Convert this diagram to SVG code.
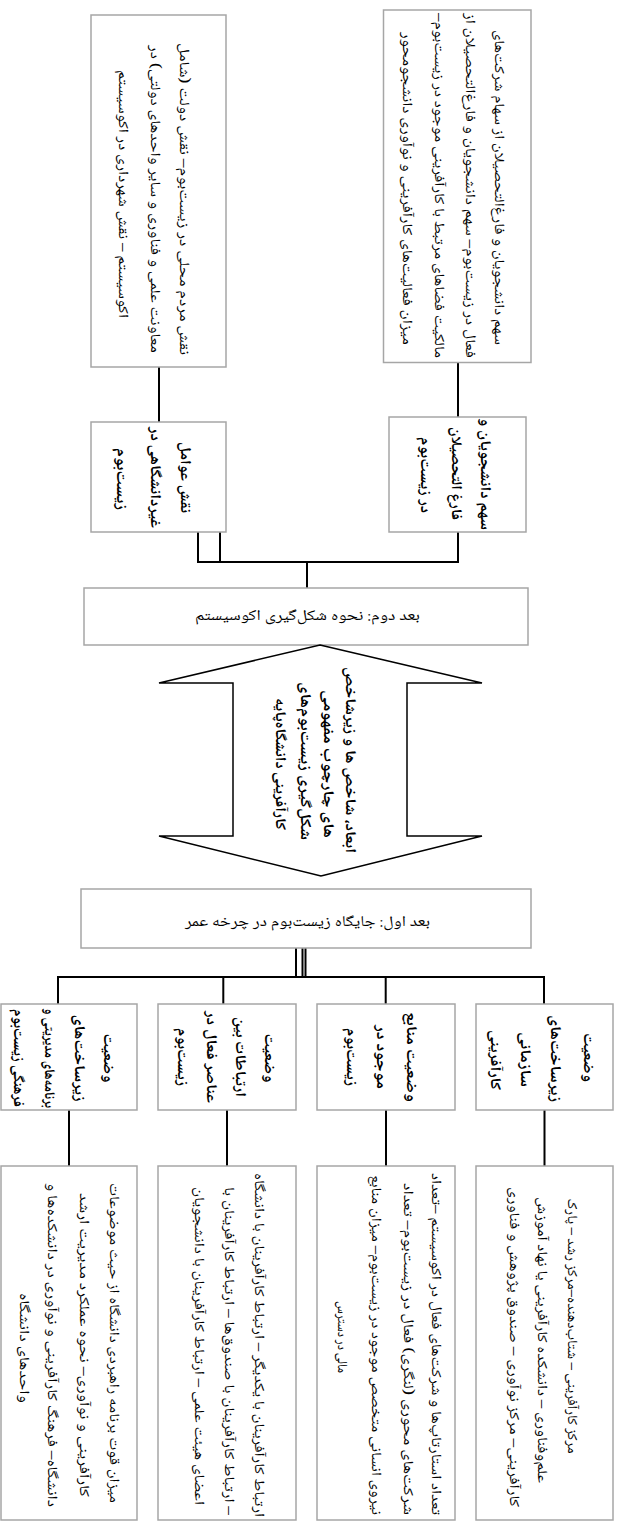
<svg xmlns="http://www.w3.org/2000/svg" width="618" height="1524" viewBox="0 0 618 1524">
<style>
.box{fill:#fff;stroke:#a6a6a6;stroke-width:1.5}
.con{stroke:#000;stroke-width:2;fill:none}
.arrow{fill:#fff;stroke:#000;stroke-width:1.5;stroke-linejoin:miter}
text{font-family:'Noto Naskh Arabic','Noto Sans Arabic','DejaVu Sans',sans-serif;font-size:14px;fill:#000}
.b{font-weight:bold;font-size:15px}
.h{font-size:15px}
</style>
<rect width="618" height="1524" fill="#fff"/>
<g id="connectors">
<path class="con" d="M458,362.5V417M159,367V422M198,532V562M220,532V562M458,532V562M197,562H459M307,562V588"/>
<path class="con" d="M296,948V977M302.5,948V977M305.5,948V977M57,977H545M58,977V1004M223.3,977V1004M385.7,977V1004M544,977V1004"/>
<path class="con" d="M69,1110V1166M227,1110V1166M386,1110V1166M544.5,1110V1166"/>
</g>
<g id="n_top_right">
<rect class="box" x="383.5" y="10" width="147.5" height="352.5"/>
<text direction="rtl" text-anchor="middle" transform="translate(495,187.5) rotate(90)" textLength="315" lengthAdjust="spacingAndGlyphs">سهم دانشجویان و فارغ‌التحصیلان از سهام شرکت‌های</text>
<text direction="rtl" text-anchor="middle" transform="translate(466,185.5) rotate(90)" textLength="345" lengthAdjust="spacingAndGlyphs">فعال در زیست‌بوم– سهم دانشجویان و فارغ‌التحصیلان از</text>
<text direction="rtl" text-anchor="middle" transform="translate(435,185.5) rotate(90)" textLength="345" lengthAdjust="spacingAndGlyphs">مالکیت فضاهای مرتبط با کارآفرینی موجود در زیست‌بوم–</text>
<text direction="rtl" text-anchor="middle" transform="translate(403,188.5) rotate(90)" textLength="313" lengthAdjust="spacingAndGlyphs">میزان فعالیت‌های کارآفرینی و نوآوری دانشجو‌محور</text>
</g>
<g id="n_top_left">
<rect class="box" x="91" y="15" width="135" height="352"/>
<text direction="rtl" text-anchor="middle" transform="translate(180,199) rotate(90)" textLength="312" lengthAdjust="spacingAndGlyphs">نقش مردم محلی در زیست‌بوم– نقش دولت (شامل</text>
<text direction="rtl" text-anchor="middle" transform="translate(151,199) rotate(90)" textLength="308" lengthAdjust="spacingAndGlyphs">معاونت علمی و فناوری و سایر واحدهای دولتی) در</text>
<text direction="rtl" text-anchor="middle" transform="translate(119,194) rotate(90)" textLength="248" lengthAdjust="spacingAndGlyphs">اکوسیستم – نقش شهرداری در اکوسیستم</text>
</g>
<g id="n_sahm">
<rect class="box" x="389" y="417" width="137" height="115"/>
<text class="b" direction="rtl" text-anchor="middle" transform="translate(481,474) rotate(90)" textLength="112" lengthAdjust="spacingAndGlyphs">سهم دانشجویان و</text>
<text class="b" direction="rtl" text-anchor="middle" transform="translate(452,473.5) rotate(90)" textLength="93" lengthAdjust="spacingAndGlyphs">فارغ التحصیلان</text>
<text class="b" direction="rtl" text-anchor="middle" transform="translate(421,475) rotate(90)" textLength="76" lengthAdjust="spacingAndGlyphs">در زیست‌بوم</text>
</g>
<g id="n_naghsh">
<rect class="box" x="91" y="422" width="135" height="110"/>
<text class="b" direction="rtl" text-anchor="middle" transform="translate(181,477.5) rotate(90)" textLength="71" lengthAdjust="spacingAndGlyphs">نقش عوامل</text>
<text class="b" direction="rtl" text-anchor="middle" transform="translate(151,477.5) rotate(90)" textLength="101" lengthAdjust="spacingAndGlyphs">غیردانشگاهی در</text>
<text class="b" direction="rtl" text-anchor="middle" transform="translate(117,479) rotate(90)" textLength="62" lengthAdjust="spacingAndGlyphs">زیست‌بوم</text>
</g>
<g id="n_dim2">
<rect class="box" x="84" y="588" width="444" height="57"/>
<text class="h" direction="rtl" text-anchor="middle" x="307.5" y="620" textLength="225" lengthAdjust="spacingAndGlyphs">بعد دوم: نحوه شکل‌گیری اکوسیستم</text>
</g>
<g id="n_arrow">
<polygon class="arrow" points="320,645 482,683 407,683 407,836 482,836 321,876 159,836 233,836 233,683 159,683"/>
<text class="b" direction="rtl" text-anchor="middle" transform="translate(346,760) rotate(90)" textLength="186" lengthAdjust="spacingAndGlyphs">ابعاد، شاخص ها و زیرشاخص</text>
<text class="b" direction="rtl" text-anchor="middle" transform="translate(324,764) rotate(90)" textLength="148" lengthAdjust="spacingAndGlyphs">های چارچوب مفهومی</text>
<text class="b" direction="rtl" text-anchor="middle" transform="translate(301,761) rotate(90)" textLength="158" lengthAdjust="spacingAndGlyphs">شکل‌گیری زیست‌بوم‌های</text>
<text class="b" direction="rtl" text-anchor="middle" transform="translate(276,764) rotate(90)" textLength="132" lengthAdjust="spacingAndGlyphs">کارآفرینی دانشگاه‌پایه</text>
</g>
<g id="n_dim1">
<rect class="box" x="81" y="889" width="450" height="59"/>
<text class="h" direction="rtl" text-anchor="middle" x="307.5" y="926" textLength="245" lengthAdjust="spacingAndGlyphs">بعد اول: جایگاه زیست‌بوم در چرخه عمر</text>
</g>
<g id="n_title4">
<rect class="box" x="476" y="1004" width="137" height="106"/>
<text class="b" direction="rtl" text-anchor="middle" transform="translate(584,1057.5) rotate(90)" textLength="49" lengthAdjust="spacingAndGlyphs">وضعیت</text>
<text class="b" direction="rtl" text-anchor="middle" transform="translate(551,1058.5) rotate(90)" textLength="87" lengthAdjust="spacingAndGlyphs">زیرساخت‌های</text>
<text class="b" direction="rtl" text-anchor="middle" transform="translate(521,1059.5) rotate(90)" textLength="55" lengthAdjust="spacingAndGlyphs">سازمانی</text>
<text class="b" direction="rtl" text-anchor="middle" transform="translate(491,1060) rotate(90)" textLength="60" lengthAdjust="spacingAndGlyphs">کارآفرینی</text>
</g>
<g id="n_title3">
<rect class="box" x="317" y="1004" width="138" height="106"/>
<text class="b" direction="rtl" text-anchor="middle" transform="translate(407,1057) rotate(90)" textLength="90" lengthAdjust="spacingAndGlyphs">وضعیت منابع</text>
<text class="b" direction="rtl" text-anchor="middle" transform="translate(377,1057) rotate(90)" textLength="64" lengthAdjust="spacingAndGlyphs">موجود در</text>
<text class="b" direction="rtl" text-anchor="middle" transform="translate(347,1057) rotate(90)" textLength="58" lengthAdjust="spacingAndGlyphs">زیست‌بوم</text>
</g>
<g id="n_title2">
<rect class="box" x="158" y="1004" width="138" height="106"/>
<text class="b" direction="rtl" text-anchor="middle" transform="translate(265,1058) rotate(90)" textLength="49" lengthAdjust="spacingAndGlyphs">وضعیت</text>
<text class="b" direction="rtl" text-anchor="middle" transform="translate(236,1057) rotate(90)" textLength="80" lengthAdjust="spacingAndGlyphs">ارتباطات بین</text>
<text class="b" direction="rtl" text-anchor="middle" transform="translate(207,1057) rotate(90)" textLength="92" lengthAdjust="spacingAndGlyphs">عناصر فعال در</text>
<text class="b" direction="rtl" text-anchor="middle" transform="translate(178,1057) rotate(90)" textLength="58" lengthAdjust="spacingAndGlyphs">زیست‌بوم</text>
</g>
<g id="n_title1">
<rect class="box" x="1" y="1004" width="136" height="106"/>
<text class="b" direction="rtl" text-anchor="middle" transform="translate(104,1058) rotate(90)" textLength="49" lengthAdjust="spacingAndGlyphs">وضعیت</text>
<text class="b" direction="rtl" text-anchor="middle" transform="translate(75,1058) rotate(90)" textLength="87" lengthAdjust="spacingAndGlyphs">زیرساخت‌های</text>
<text class="b" direction="rtl" text-anchor="middle" transform="translate(45,1058) rotate(90)" textLength="100" lengthAdjust="spacingAndGlyphs">برنامه‌های مدیریتی و</text>
<text class="b" direction="rtl" text-anchor="middle" transform="translate(14,1058) rotate(90)" textLength="98" lengthAdjust="spacingAndGlyphs">فرهنگی زیست‌بوم</text>
</g>
<g id="n_detail4">
<rect class="box" x="476" y="1166" width="137" height="354"/>
<text direction="rtl" text-anchor="middle" transform="translate(568,1326) rotate(90)" textLength="255" lengthAdjust="spacingAndGlyphs">مرکز کارآفرینی – شتاب‌دهنده–مرکز رشد – پارک</text>
<text direction="rtl" text-anchor="middle" transform="translate(538,1340) rotate(90)" textLength="286" lengthAdjust="spacingAndGlyphs">علم‌وفناوری – دانشکده کارآفرینی یا نهاد آموزش</text>
<text direction="rtl" text-anchor="middle" transform="translate(510,1347) rotate(90)" textLength="320" lengthAdjust="spacingAndGlyphs">کارآفرینی– مرکز نوآوری – صندوق پژوهش و فناوری</text>
</g>
<g id="n_detail3">
<rect class="box" x="317" y="1166" width="138" height="354"/>
<text direction="rtl" text-anchor="middle" transform="translate(432,1344) rotate(90)" textLength="342" lengthAdjust="spacingAndGlyphs">تعداد استارتاپ‌ها و شرکت‌های فعال در اکوسیستم –تعداد</text>
<text direction="rtl" text-anchor="middle" transform="translate(404,1349) rotate(90)" textLength="332" lengthAdjust="spacingAndGlyphs">شرکت‌های محوری (لنگری) فعال در زیست‌بوم– تعداد</text>
<text direction="rtl" text-anchor="middle" transform="translate(372,1345) rotate(90)" textLength="340" lengthAdjust="spacingAndGlyphs">نیروی انسانی متخصص موجود در زیست‌بوم– میزان منابع</text>
<text direction="rtl" text-anchor="middle" transform="translate(338,1337) rotate(90)" textLength="72" lengthAdjust="spacingAndGlyphs">مالی در دسترس</text>
</g>
<g id="n_detail2">
<rect class="box" x="158" y="1166" width="138" height="354"/>
<text direction="rtl" text-anchor="middle" transform="translate(255,1345) rotate(90)" textLength="344" lengthAdjust="spacingAndGlyphs">ارتباط کارآفرینان با یکدیگر – ارتباط کارآفرینان با دانشگاه</text>
<text direction="rtl" text-anchor="middle" transform="translate(225,1351) rotate(90)" textLength="328" lengthAdjust="spacingAndGlyphs">– ارتباط کارآفرینان با صندوق‌ها – ارتباط کارآفرینان با</text>
<text direction="rtl" text-anchor="middle" transform="translate(195,1346) rotate(90)" textLength="318" lengthAdjust="spacingAndGlyphs">اعضای هیئت علمی – ارتباط کارآفرینان با دانشجویان</text>
</g>
<g id="n_detail1">
<rect class="box" x="1" y="1166" width="136" height="354"/>
<text direction="rtl" text-anchor="middle" transform="translate(110,1343) rotate(90)" textLength="320" lengthAdjust="spacingAndGlyphs">میزان قوت برنامه راهبردی دانشگاه از حیث موضوعات</text>
<text direction="rtl" text-anchor="middle" transform="translate(80,1345) rotate(90)" textLength="304" lengthAdjust="spacingAndGlyphs">کارآفرینی و نوآوری– نحوه عملکرد مدیریت ارشد</text>
<text direction="rtl" text-anchor="middle" transform="translate(48,1345) rotate(90)" textLength="324" lengthAdjust="spacingAndGlyphs">دانشگاه– فرهنگ کارآفرینی و نوآوری در دانشکده‌ها و</text>
<text direction="rtl" text-anchor="middle" transform="translate(20,1348) rotate(90)" textLength="110" lengthAdjust="spacingAndGlyphs">واحدهای دانشگاه</text>
</g>
</svg>
